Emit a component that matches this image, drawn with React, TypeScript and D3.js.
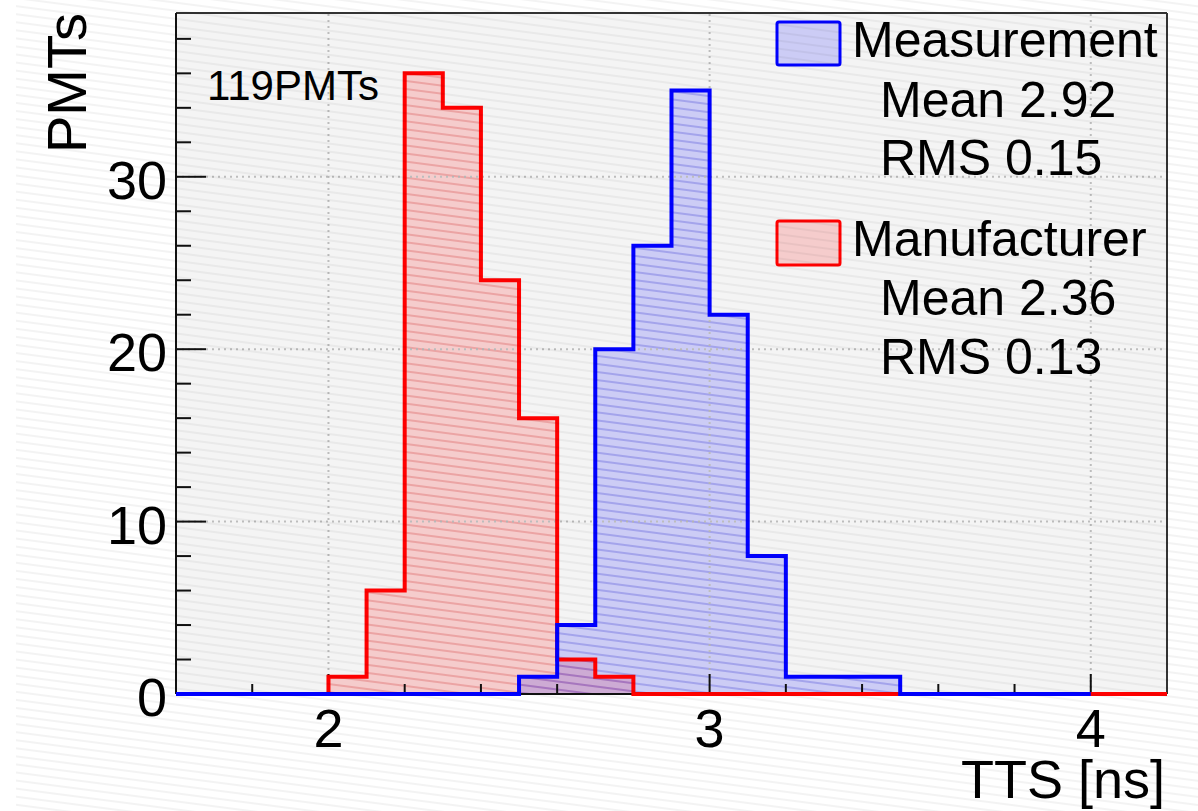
import React from "react";
import * as d3 from "d3";

// ---- data ----
const redBinLows = [2.0, 2.1, 2.2, 2.3, 2.4, 2.5, 2.6, 2.7];
const redCounts = [1, 6, 36, 34, 24, 16, 2, 1];
const redRange = [1.6, 4.2];

const blueBinLows = [2.5, 2.6, 2.7, 2.8, 2.9, 3.0, 3.1, 3.2, 3.3, 3.4];
const blueCounts = [1, 4, 20, 26, 35, 22, 8, 1, 1, 1];
const blueRange = [1.6, 4.0];

const binWidth = 0.1;

const xMajorTicks = [2, 3, 4];
const xMinorTicks = [1.8, 2.2, 2.4, 2.6, 2.8, 3.2, 3.4, 3.6, 3.8];
const yMajorTicks = [0, 10, 20, 30];
const yMinorTicks = [2, 4, 6, 8, 12, 14, 16, 18, 22, 24, 26, 28, 32, 34, 36, 38];

const legendMeasurement = ["Measurement", "Mean 2.92", "RMS 0.15"];
const legendManufacturer = ["Manufacturer", "Mean 2.36", "RMS 0.13"];
const annotation = "119PMTs";
const xTitle = "TTS [ns]";
const yTitle = "PMTs";

const W = 1198;
const H = 811;
const FONT = "'Liberation Sans', Arial, Helvetica, sans-serif";

export default function App() {
  const x = d3.scaleLinear().domain([1.6, 4.2]).range([176, 1167]);
  const y = d3.scaleLinear().domain([0, 39.5]).range([694, 13]);

  const stepPoints = (lows: number[], counts: number[], range: number[]) => {
    const pts: [number, number][] = [[range[0], 0], [lows[0], 0]];
    lows.forEach((lo, i) => {
      pts.push([lo, counts[i]]);
      pts.push([lo + binWidth, counts[i]]);
    });
    const last = lows[lows.length - 1] + binWidth;
    pts.push([last, 0]);
    pts.push([range[1], 0]);
    return pts;
  };

  const line = d3
    .line<[number, number]>()
    .x((d) => x(d[0]))
    .y((d) => y(d[1]));

  const redPts = stepPoints(redBinLows, redCounts, redRange);
  const bluePts = stepPoints(blueBinLows, blueCounts, blueRange);
  const redPath = line(redPts) || "";
  const bluePath = line(bluePts) || "";
  const redFill = redPath + "Z";
  const blueFill = bluePath + "Z";

  const [x0, x1] = x.range();
  const [yb, yt] = y.range();

  return (
    <svg
      width={W}
      height={H}
      style={{ position: "absolute", left: 0, top: 0, background: "#fff" }}
      fontFamily={FONT}
    >
      <defs>
        <pattern id="bgLines" patternUnits="userSpaceOnUse" width={40} height={8} patternTransform="rotate(7.4)">
          <line x1={0} x2={40} y1={4} y2={4} stroke="#000" strokeOpacity={0.06} strokeWidth={1.5} />
        </pattern>
        <pattern id="redLines" patternUnits="userSpaceOnUse" width={40} height={8} patternTransform="rotate(7.4)">
          <line x1={0} x2={40} y1={4} y2={4} stroke="#ff3030" strokeOpacity={0.28} strokeWidth={1.5} />
        </pattern>
        <pattern id="blueLines" patternUnits="userSpaceOnUse" width={40} height={8} patternTransform="rotate(7.4)">
          <line x1={0} x2={40} y1={4} y2={4} stroke="#3030ff" strokeOpacity={0.28} strokeWidth={1.5} />
        </pattern>
      </defs>

      {/* page background */}
      <rect x={0} y={0} width={W} height={H} fill="#fff" />
      {/* plot frame background */}
      <rect x={x0} y={yt} width={x1 - x0} height={yb - yt} fill="#f4f4f4" />

      {/* histogram fills */}
      <path d={redFill} fill="rgba(255,0,0,0.16)" />
      <path d={redFill} fill="url(#redLines)" />
      <path d={blueFill} fill="rgba(0,0,255,0.16)" />
      <path d={blueFill} fill="url(#blueLines)" />

      {/* grid */}
      {xMajorTicks.map((t) => (
        <line key={"gx" + t} x1={x(t)} x2={x(t)} y1={yb} y2={yt} stroke="#bdbdbd" strokeWidth={2} strokeDasharray="2,4" />
      ))}
      {yMajorTicks
        .filter((t) => t > 0)
        .map((t) => (
          <line key={"gy" + t} x1={x0} x2={x1} y1={y(t)} y2={y(t)} stroke="#bdbdbd" strokeWidth={2} strokeDasharray="2,4" />
        ))}

      {/* frame */}
      <line x1={x0} x2={x1} y1={yt} y2={yt} stroke="#333" strokeWidth={2} />
      <line x1={x1} x2={x1} y1={yt} y2={yb} stroke="#333" strokeWidth={2} />
      <line x1={x0} x2={x0} y1={yt} y2={yb} stroke="#111" strokeWidth={2} />
      <line x1={x0} x2={x1} y1={yb} y2={yb} stroke="#111" strokeWidth={2} />

      {/* ticks */}
      {xMajorTicks.map((t) => (
        <line key={"xt" + t} x1={x(t)} x2={x(t)} y1={yb} y2={yb - 20} stroke="#111" strokeWidth={2} />
      ))}
      {xMinorTicks.map((t) => (
        <line key={"xm" + t} x1={x(t)} x2={x(t)} y1={yb} y2={yb - 10} stroke="#111" strokeWidth={2} />
      ))}
      {yMajorTicks.map((t) => (
        <line key={"yt" + t} x1={x0} x2={x0 + 30} y1={y(t)} y2={y(t)} stroke="#111" strokeWidth={2} />
      ))}
      {yMinorTicks.map((t) => (
        <line key={"ym" + t} x1={x0} x2={x0 + 15} y1={y(t)} y2={y(t)} stroke="#111" strokeWidth={2} />
      ))}

      {/* histogram outlines */}
      <path d={redPath} fill="none" stroke="#ff0000" strokeWidth={4} strokeLinejoin="miter" />
      <path d={bluePath} fill="none" stroke="#0000ff" strokeWidth={4} strokeLinejoin="miter" />

      {/* tick labels */}
      {xMajorTicks.map((t) => (
        <text key={"xl" + t} x={x(t)} y={747} fontSize={54} textAnchor="middle" fill="#000">
          {t}
        </text>
      ))}
      {yMajorTicks.map((t) => (
        <text key={"yl" + t} x={167} y={y(t) + 22} fontSize={54} textAnchor="end" fill="#000">
          {t}
        </text>
      ))}

      {/* axis titles */}
      <text x={1165} y={798} fontSize={54} textAnchor="end" fill="#000">
        {xTitle}
      </text>
      <text transform="translate(86,13) rotate(-90)" fontSize={56} textAnchor="end" fill="#000">
        {yTitle}
      </text>

      {/* annotation */}
      <text x={207} y={100} fontSize={42} fill="#000">
        {annotation}
      </text>

      {/* legend */}
      <rect x={777} y={22} width={63} height={43} rx={2} fill="#f4f4f4" />
      <rect x={777} y={22} width={63} height={43} rx={2} fill="rgba(0,0,255,0.16)" stroke="#0000ff" strokeWidth={3} />
      <rect x={777} y={221} width={63} height={44} rx={2} fill="#f4f4f4" />
      <rect x={777} y={221} width={63} height={44} rx={2} fill="rgba(255,0,0,0.16)" stroke="#ff0000" strokeWidth={3} />
      <text x={852} y={57} fontSize={50} fill="#000">{legendMeasurement[0]}</text>
      <text x={880} y={117} fontSize={50} fill="#000">{legendMeasurement[1]}</text>
      <text x={880} y={175} fontSize={50} fill="#000">{legendMeasurement[2]}</text>
      <text x={852} y={256} fontSize={50} fill="#000">{legendManufacturer[0]}</text>
      <text x={880} y={315} fontSize={50} fill="#000">{legendManufacturer[1]}</text>
      <text x={880} y={374} fontSize={50} fill="#000">{legendManufacturer[2]}</text>

      {/* faint scan lines over the whole picture */}
      <rect x={16} y={0} width={W - 16} height={H} fill="url(#bgLines)" pointerEvents="none" />
    </svg>
  );
}
